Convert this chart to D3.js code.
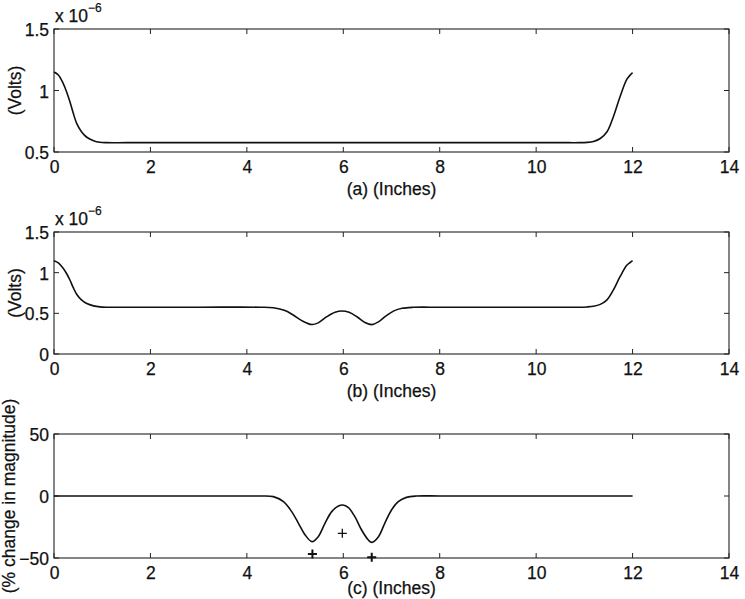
<!DOCTYPE html>
<html>
<head>
<meta charset="utf-8">
<script src="https://cdn.jsdelivr.net/npm/d3@7"></script>
<style>
  html, body { margin: 0; padding: 0; background: #fff; }
  svg { display: block; }
  text { font-family: "Liberation Sans", Arial, Helvetica, sans-serif; fill: #111; stroke: #111; stroke-width: 0.25px; }
</style>
</head>
<body>
<svg id="chart" width="745" height="599"></svg>
<script>
// ---------- data ----------
const xTicks = [0, 2, 4, 6, 8, 10, 12, 14];

// panel (a): Volts (x 10^-6)
const aX = [0, 0.09, 0.19, 0.26, 0.33, 0.40, 0.47, 0.57, 0.68, 0.82, 0.95, 1.1, 1.5, 3, 5, 7, 9, 10.5,
            10.9, 11.05, 11.19, 11.33, 11.47, 11.6, 11.74, 11.88, 11.95, 12];
const aY = [1.15, 1.126, 1.058, 0.99, 0.909, 0.815, 0.733, 0.665, 0.62, 0.592, 0.579, 0.576, 0.576, 0.576, 0.576, 0.576, 0.576, 0.576,
            0.576, 0.578, 0.586, 0.61, 0.665, 0.785, 0.95, 1.09, 1.125, 1.145];
const aYTicks = [0.5, 1, 1.5];

// panel (b): Volts (x 10^-6)
const bX = [0, 0.09, 0.19, 0.26, 0.33, 0.40, 0.47, 0.57, 0.68, 0.82, 0.95, 1.1, 1.5, 3, 4.27, 4.55, 4.79, 4.96, 5.14,
            5.35, 5.48, 5.66, 5.83, 5.97, 6.12, 6.29, 6.46, 6.59, 6.73, 6.88, 7.05, 7.22, 7.45, 8, 9, 10.5,
            10.9, 11.05, 11.19, 11.33, 11.47, 11.6, 11.74, 11.88, 11.95, 12];
const bY = [1.147, 1.12, 1.055, 0.99, 0.91, 0.815, 0.735, 0.665, 0.62, 0.592, 0.579, 0.575, 0.575, 0.575, 0.575, 0.568, 0.535, 0.48, 0.41,
            0.362, 0.383, 0.459, 0.513, 0.529, 0.512, 0.455, 0.384, 0.361, 0.395, 0.465, 0.53, 0.562, 0.574, 0.575, 0.575, 0.575,
            0.575, 0.578, 0.586, 0.61, 0.665, 0.785, 0.95, 1.09, 1.125, 1.147];
const bYTicks = [0, 0.5, 1, 1.5];

// panel (c): % change in magnitude
const cX = [0, 1, 2, 3, 4, 4.27, 4.55, 4.76, 4.93, 5.07, 5.21, 5.35, 5.48, 5.62, 5.76, 5.90, 5.99, 6.10,
            6.24, 6.38, 6.52, 6.59, 6.73, 6.86, 7.00, 7.14, 7.31, 7.52, 8, 9, 10, 11, 12];
const cY = [0, 0, 0, 0, 0, 0, -0.5, -4.6, -12.6, -22.0, -31.5, -36.8, -32.8, -22.0, -12.6, -8.1, -7.3, -9.1,
            -16.7, -27.4, -35.5, -37.4, -32.8, -22.0, -11.3, -4.6, -1.1, 0, 0, 0, 0, 0, 0];
const cYTicks = [-50, 0, 50];
const plusX = [5.36, 5.98, 6.59];
const plusY = [-46.8, -30.1, -49.4];

// ---------- layout ----------
const svg = d3.select("#chart");
const L = 54, R = 729;
const FS = 17.5;
const x = d3.scaleLinear().domain([0, 14]).range([L, R]);

const panels = [
  { top: 29,  bottom: 152, domain: [0.5, 1.5], ticks: aYTicks, xs: aX, ys: aY, xlabel: "(a) (Inches)", xlabDy: 43, ylabel: "(Volts)", ylabX: 21, exp: true },
  { top: 232, bottom: 354, domain: [0, 1.5],   ticks: bYTicks, xs: bX, ys: bY, xlabel: "(b) (Inches)", xlabDy: 43, ylabel: "(Volts)", ylabX: 21, exp: true },
  { top: 434, bottom: 558, domain: [-50, 50],  ticks: cYTicks, xs: cX, ys: cY, xlabel: "(c) (Inches)", xlabDy: 36, ylabel: "(% change in magnitude)", ylabX: 15, exp: false }
];

const fmt = d => d3.format("")(d).replace("-", "\u2212");

panels.forEach((p, i) => {
  const y = d3.scaleLinear().domain(p.domain).range([p.bottom, p.top]);
  const g = svg.append("g");
  const tickLen = 5;

  // box
  g.append("rect")
    .attr("x", L).attr("y", p.top)
    .attr("width", R - L).attr("height", p.bottom - p.top)
    .attr("fill", "none").attr("stroke", "#222").attr("stroke-width", 1.1);

  // x ticks (bottom & top, inward)
  xTicks.forEach(t => {
    g.append("line").attr("x1", x(t)).attr("x2", x(t)).attr("y1", p.bottom).attr("y2", p.bottom - tickLen).attr("stroke", "#222");
    g.append("line").attr("x1", x(t)).attr("x2", x(t)).attr("y1", p.top).attr("y2", p.top + tickLen).attr("stroke", "#222");
  });
  const xAxis = d3.axisBottom(x).tickValues(xTicks).tickSize(0).tickPadding(0).tickFormat(d3.format(""));
  const xa = g.append("g").attr("transform", `translate(0,${p.bottom})`).call(xAxis);
  xa.select(".domain").remove();
  xa.selectAll("text").attr("y", 21).attr("dy", null)
    .style("font-size", FS + "px").style("font-family", '"Liberation Sans", Arial, sans-serif');

  // y ticks (left & right, inward)
  p.ticks.forEach(t => {
    g.append("line").attr("x1", L).attr("x2", L + tickLen).attr("y1", y(t)).attr("y2", y(t)).attr("stroke", "#222");
    g.append("line").attr("x1", R).attr("x2", R - tickLen).attr("y1", y(t)).attr("y2", y(t)).attr("stroke", "#222");
  });
  const yAxis = d3.axisLeft(y).tickValues(p.ticks).tickSize(0).tickPadding(5).tickFormat(fmt);
  const ya = g.append("g").attr("transform", `translate(${L},0)`).call(yAxis);
  ya.select(".domain").remove();
  ya.selectAll("text").attr("dy", "0.38em")
    .style("font-size", FS + "px").style("font-family", '"Liberation Sans", Arial, sans-serif');

  // exponent label
  if (p.exp) {
    const t = g.append("text").attr("x", L + 1).attr("y", p.top - 7.5).style("font-size", FS + "px");
    t.append("tspan").text("x 10");
    t.append("tspan").attr("dy", -10).style("font-size", "12px").text("\u22126");
  }

  // x label
  g.append("text").attr("x", (L + R) / 2).attr("y", p.bottom + p.xlabDy)
    .attr("text-anchor", "middle").style("font-size", FS + "px").text(p.xlabel);

  // y label
  const cy = (p.top + p.bottom) / 2;
  g.append("text").attr("transform", `translate(${p.ylabX},${cy}) rotate(-90)`)
    .attr("text-anchor", "middle").style("font-size", FS + "px").text(p.ylabel);

  // curve
  const pts = p.xs.map((xv, k) => [xv, p.ys[k]]);
  const line = d3.line().x(d => x(d[0])).y(d => y(d[1])).curve(d3.curveCatmullRom.alpha(0.5));
  g.append("path").datum(pts).attr("d", line)
    .attr("fill", "none").attr("stroke", "#111").attr("stroke-width", 1.6).attr("stroke-linejoin", "round");

  // plus markers in panel (c)
  if (i === 2) {
    const s = 4.5;
    plusX.forEach((xv, k) => {
      const px = x(xv), py = y(plusY[k]);
      g.append("path").attr("d", `M${px - s},${py}H${px + s}M${px},${py - s}V${py + s}`)
        .attr("stroke", "#111").attr("stroke-width", k === 1 ? 1.3 : 2).attr("fill", "none");
    });
  }
});
</script>
</body>
</html>
